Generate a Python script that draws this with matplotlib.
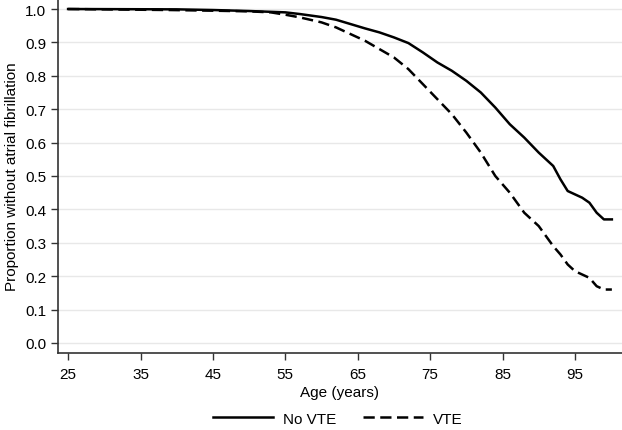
import matplotlib.pyplot as plt

plt.rcParams['font.family'] = ['Liberation Sans', 'DejaVu Sans']

# curve (age, proportion without AF)
age_novte = [25, 40, 45, 50, 55, 57, 60, 62, 64, 66, 68, 70, 72, 74, 76, 78,
             80, 82, 84, 86, 88, 90, 92, 93, 94, 95, 96, 97, 98, 99, 100.1]
surv_novte = [1.0, 0.999, 0.997, 0.994, 0.99, 0.985, 0.976, 0.968, 0.955, 0.942,
              0.93, 0.915, 0.898, 0.87, 0.84, 0.815, 0.785, 0.75, 0.705, 0.655,
              0.615, 0.57, 0.53, 0.49, 0.455, 0.445, 0.435, 0.42, 0.39, 0.37, 0.37]

age_vte = [25, 39, 45, 50, 53, 55, 57, 60, 62, 64, 66, 68, 70, 72, 74, 76, 78,
           80, 82, 84, 86, 88, 90, 92, 93, 94, 95, 96, 97, 98, 99, 100.1]
surv_vte = [1.0, 0.997, 0.995, 0.993, 0.99, 0.983, 0.975, 0.96, 0.945, 0.925,
            0.905, 0.88, 0.855, 0.82, 0.775, 0.73, 0.685, 0.63, 0.57, 0.5,
            0.45, 0.39, 0.35, 0.29, 0.265, 0.235, 0.215, 0.205, 0.195, 0.17,
            0.16, 0.16]

xticks = [25, 35, 45, 55, 65, 75, 85, 95]
yticks = [0.0, 0.1, 0.2, 0.3, 0.4, 0.5, 0.6, 0.7, 0.8, 0.9, 1.0]

fs = 11

fig = plt.figure(figsize=(6.22, 4.31), dpi=100)
ax = fig.add_axes([0.0932, 0.1787, 0.9068, 0.8213])

for y in yticks:
    ax.axhline(y, color='#e8e8e8', lw=1, zorder=0)

ax.plot(age_novte, surv_novte, color='black', lw=1.8, label='No VTE')
ax.plot(age_vte, surv_vte, color='black', lw=1.8, ls=(0, (4.5, 2.2)), label='VTE')

ax.set_xlim(23.6, 101.5)
ax.set_ylim(-0.03, 1.03)
ax.set_xticks(xticks)
ax.set_yticks(yticks)
ax.set_yticklabels(['%.1f' % v for v in yticks])
ax.tick_params(labelsize=fs, length=5, width=1, color='#333333')
ax.tick_params(axis='x', pad=5)
for s in ['top', 'right']:
    ax.spines[s].set_visible(False)
for s in ['left', 'bottom']:
    ax.spines[s].set_color('#333333')
    ax.spines[s].set_linewidth(1.2)

ax.set_xlabel('Age (years)', fontsize=fs, labelpad=3)
ax.set_ylabel('Proportion without atrial fibrillation', fontsize=fs, labelpad=4)

fig.legend(loc='lower center', bbox_to_anchor=(0.543, -0.022), ncol=2,
           frameon=False, fontsize=fs, handlelength=3.9, handletextpad=0.65,
           columnspacing=1.8)

fig.savefig('out.png', dpi=100)
